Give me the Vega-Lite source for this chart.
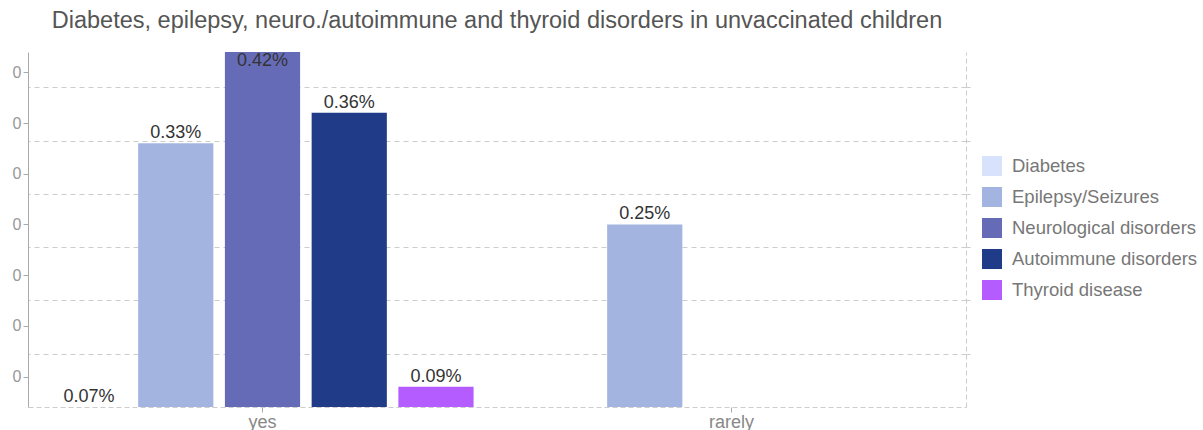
{
  "$schema": "https://vega.github.io/schema/vega-lite/v6.json",
  "width": 938,
  "height": 355,
  "autosize": {"type": "none"},
  "padding": {"left": 28, "top": 52, "right": 237, "bottom": 23},
  "background": "white",
  "title": {
    "text": "Diabetes, epilepsy, neuro./autoimmune  and thyroid disorders in unvaccinated children",
    "anchor": "middle",
    "frame": "group",
    "fontSize": 23.5,
    "font": "Liberation Sans",
    "fontWeight": "normal",
    "color": "#555555",
    "offset": 20
  },
  "config": {
    "view": {"stroke": null},
    "font": "Liberation Sans"
  },
  "data": {
    "values": [
      {"response": "yes", "condition": "Diabetes", "rate": 0.0007},
      {"response": "yes", "condition": "Epilepsy/Seizures", "rate": 0.0033},
      {"response": "yes", "condition": "Neurological disorders", "rate": 0.0042},
      {"response": "yes", "condition": "Autoimmune disorders", "rate": 0.0036},
      {"response": "yes", "condition": "Thyroid disease", "rate": 0.0009},
      {"response": "rarely", "condition": "Epilepsy/Seizures", "rate": 0.0025}
    ]
  },
  "encoding": {
    "x": {
      "field": "response",
      "type": "nominal",
      "sort": ["yes", "rarely"],
      "title": null,
      "scale": {"paddingInner": 0, "paddingOuter": 0},
      "axis": {
        "labelAngle": 0,
        "labelFontSize": 18,
        "labelColor": "#888888",
        "labelPadding": 1,
        "tickSize": 5,
        "tickColor": "#aaaaaa",
        "domainColor": "#cccccc",
        "domainDash": [5, 3]
      }
    },
    "xOffset": {
      "field": "condition",
      "type": "nominal",
      "sort": ["Diabetes", "Epilepsy/Seizures", "Neurological disorders", "Autoimmune disorders", "Thyroid disease"],
      "scale": {
        "domain": ["Diabetes", "Epilepsy/Seizures", "Neurological disorders", "Autoimmune disorders", "Thyroid disease"],
        "paddingInner": 0.133,
        "paddingOuter": 0.27
      }
    }
  },
  "layer": [
    {
      "mark": {"type": "bar"},
      "encoding": {
        "y": {
          "field": "rate",
          "type": "quantitative",
          "title": null,
          "scale": {"domain": [0.0007, 0.0042], "zero": false, "nice": false, "clamp": true},
          "axis": {
            "orient": "left",
            "values": [0.001, 0.0015, 0.002, 0.0025, 0.003, 0.0035, 0.004],
            "format": ".0f",
            "grid": false,
            "labelFontSize": 16,
            "labelColor": "#999999",
            "labelPadding": 2,
            "tickSize": 5,
            "tickColor": "#aaaaaa",
            "domainColor": "#aaaaaa"
          }
        },
        "color": {
          "field": "condition",
          "type": "nominal",
          "scale": {
            "domain": ["Diabetes", "Epilepsy/Seizures", "Neurological disorders", "Autoimmune disorders", "Thyroid disease"],
            "range": ["#d9e2fc", "#a3b4e0", "#666bb8", "#203b87", "#b45cff"]
          },
          "legend": {
            "title": null,
            "orient": "none",
            "legendX": 954,
            "legendY": 104,
            "padding": 0,
            "symbolType": "square",
            "symbolSize": 400,
            "symbolStrokeWidth": 0,
            "labelFontSize": 18.5,
            "labelColor": "#777777",
            "labelOffset": 10,
            "labelLimit": 300,
            "rowPadding": 11
          }
        }
      }
    },
    {
      "transform": [{"filter": "datum.rate < 0.0042"}],
      "mark": {"type": "text", "baseline": "alphabetic", "dy": -5, "fontSize": 18, "color": "#333333"},
      "encoding": {
        "y": {
          "field": "rate",
          "type": "quantitative",
          "axis": {
            "orient": "right",
            "title": null,
            "values": [0.001225, 0.00175, 0.002275, 0.0028, 0.003325, 0.00385],
            "labels": false,
            "ticks": true,
            "tickSize": 4,
            "tickColor": "#cccccc",
            "domainColor": "#cccccc",
            "domainDash": [5, 3],
            "grid": true,
            "gridColor": "#cccccc",
            "gridDash": [5, 4]
          }
        },
        "text": {"field": "rate", "type": "quantitative", "format": ".2%"}
      }
    },
    {
      "transform": [{"filter": "datum.rate >= 0.0042"}],
      "mark": {"type": "text", "baseline": "alphabetic", "dy": 14, "fontSize": 18, "color": "#333333"},
      "encoding": {
        "y": {"field": "rate", "type": "quantitative", "axis": null},
        "text": {"field": "rate", "type": "quantitative", "format": ".2%"}
      }
    }
  ],
  "resolve": {"axis": {"y": "independent"}}
}
